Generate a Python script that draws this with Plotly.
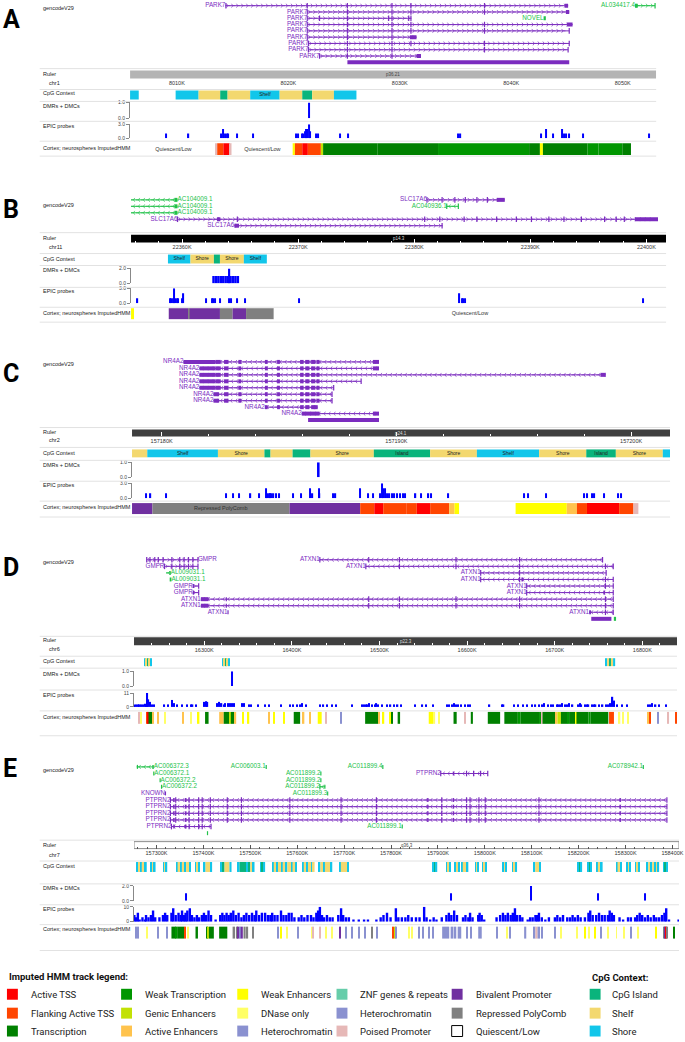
import numpy as np
import plotly.graph_objects as go

W, H = 685, 1042
FONT = "Liberation Sans"

PURPLE = "#7b2cbf"
GREEN = "#22c24a"
BLUE = "#0000ff"

HMM_COLORS = {
    "TssA": "#ff0000", "TssAFlnk": "#ff4500", "Tx": "#008000", "TxWk": "#009600",
    "EnhG": "#c2e105", "EnhA": "#ffc34d", "EnhW": "#ffff00", "DNase": "#ffff66",
    "ZNF": "#66cdaa", "Het": "#8a91d0", "PromP": "#e6b8b7", "PromBiv": "#7030a0",
    "ReprPC": "#808080", "Quies": "#ffffff",
}
# colours as drawn in the tracks (cyan blocks are labelled "Shelf", yellow "Shore")
CPG_COLORS = {"Island": "#0ab47c", "Shore": "#f3d86f", "Shelf": "#12c6ea"}

# ---------------- panel A : PARK7, chr1 (kb) ----------------
A_RANGE = (8005.8, 8053.0)
A_GENES = [
    ("PARK7", 0, 8014.35, 8045.1, "+", "left", "p", [8014.4, 8021.7, 8025.3, 8029.3, 8031.0, 8037.6, (8044.8, 8045.1)]),
    ("AL034417.4", 0, 8051.1, 8052.9, "+", "left", "g", [(8051.1, 8051.35), 8052.9]),
    ("PARK7", 1, 8021.7, 8045.2, "+", "left", "p", [8021.7, 8025.3, 8029.3, 8031.0, 8037.6, (8044.9, 8045.2)]),
    ("PARK7", 2, 8021.7, 8031.0, "+", "left", "p", [8021.7, 8022.8, 8025.3, 8029.0, 8029.3, 8030.8, 8031.0]),
    ("NOVEL", 2, 8042.9, 8043.1, "", "left", "g", [(8042.9, 8043.1)]),
    ("PARK7", 3, 8021.7, 8045.5, "+", "left", "p", [8021.7, 8025.3, 8029.3, 8031.0, 8037.6, (8045.0, 8045.5)]),
    ("PARK7", 4, 8021.7, 8045.2, "+", "left", "p", [8021.7, 8025.3, 8029.3, 8031.0, 8037.6, 8045.2]),
    ("PARK7", 5, 8021.7, 8031.5, "+", "left", "p", [8021.7, 8025.3, 8029.3, (8030.9, 8031.5)]),
    ("PARK7", 6, 8021.8, 8045.2, "+", "left", "p", [8021.8, 8025.3, 8029.3, 8031.0, 8037.6, 8045.2]),
    ("PARK7", 7, 8021.8, 8045.1, "+", "left", "p", [8021.8, 8025.3, 8029.3, 8037.6, 8045.1]),
    ("PARK7", 8, 8022.8, 8031.9, "+", "left", "p", [8022.8, 8025.3, 8029.3, (8031.5, 8031.9)]),
    ("", 9, 8025.3, 8045.2, "", "left", "p", [(8025.3, 8045.2)]),
]
A_CPG = [(8005.8, 8006.58, "Shelf"), (8009.89, 8011.95, "Shelf"), (8011.95, 8013.89, "Shore"),
         (8013.89, 8014.55, "Island"), (8014.55, 8016.58, "Shore"), (8016.58, 8019.22, "Shelf"),
         (8019.22, 8021.25, "Shore"), (8021.25, 8022.14, "Island"), (8022.14, 8024.09, "Shore"),
         (8024.09, 8026.11, "Shelf")]
A_CPG_TEXT = [(8017.9, "Shelf")]
A_DMR = [(8021.83, 8021.83, 1.0)]
A_EPIC = [(8009.0, 1), (8011.05, 1), (8013.97, 1), (8014.17, 2), (8014.36, 1), (8014.48, 1), (8014.63, 1),
          (8015.41, 1), (8016.81, 1), (8020.70, 1), (8020.90, 1), (8021.25, 1), (8021.36, 1), (8021.48, 1.5),
          (8021.60, 2), (8021.71, 2), (8021.83, 3), (8021.95, 1.5), (8022.53, 1), (8022.65, 1), (8024.67, 1),
          (8025.33, 1), (8035.26, 1), (8035.45, 1), (8042.69, 1), (8043.15, 2), (8043.74, 1), (8044.52, 2),
          (8044.71, 1), (8044.91, 1), (8045.18, 1), (8046.46, 1), (8052.38, 1)]
A_HMM = [(8005.8, 8013.45, "Quies"), (8013.45, 8013.62, "PromP"), (8013.62, 8014.17, "TssAFlnk"),
         (8014.17, 8014.75, "TssA"), (8014.75, 8014.92, "PromP"), (8014.92, 8020.39, "Quies"),
         (8020.39, 8020.59, "EnhW"), (8020.59, 8021.25, "TssAFlnk"), (8021.25, 8021.75, "TssA"),
         (8021.75, 8022.92, "TssAFlnk"), (8022.92, 8023.12, "EnhG"), (8023.12, 8027.98, "Tx"),
         (8027.98, 8033.43, "Tx"), (8033.43, 8041.6, "TxWk"), (8041.6, 8042.57, "Tx"),
         (8042.57, 8042.84, "EnhW"), (8042.84, 8046.85, "Tx"), (8046.85, 8047.82, "TxWk"),
         (8047.82, 8049.96, "TxWk"), (8049.96, 8050.74, "Tx")]
A_HMM_TEXT = [(8009.69, "Quiescent/Low"), (8017.67, "Quiescent/Low")]

# ---------------- panel B : SLC17A6, chr11 ----------------
B_RANGE = (22355.6, 22401.7)
B_GENES = [
    ("AC104009.1", 0, 22355.6, 22359.6, "-", "right", "g", [(22359.35, 22359.6)]),
    ("AC104009.1", 1, 22355.6, 22359.6, "-", "right", "g", [(22359.35, 22359.6)]),
    ("AC104009.1", 2, 22355.6, 22359.6, "-", "right", "g", [(22359.35, 22359.6)]),
    ("SLC17A6", 0, 22381.1, 22387.8, "+", "left", "p", [22381.1, 22382.4, 22383.5, 22384.4, 22385.4, 22386.3, (22387.1, 22387.8)]),
    ("AC040936.1", 1, 22382.8, 22383.8, "-", "left", "g", [22382.8, 22383.8]),
    ("SLC17A6", 3, 22359.6, 22401.0, "+", "left", "p", [22359.6, (22363.0, 22363.3), 22364.76, 22380.9, 22382.2, 22384.3,
                                                     22385.4, 22387.1, 22388.8, 22390.1, 22391.6, 22392.9, 22394.4,
                                                     22396.4, 22397.4, 22398.1, (22399.0, 22401.0)]),
    ("SLC17A6", 4, 22364.5, 22382.4, "+", "left", "p", [(22364.5, 22364.9), 22382.4]),
]
B_CPG = [(22358.78, 22360.72, "Shelf"), (22360.72, 22362.74, "Shore"), (22362.74, 22363.26, "Island"),
         (22363.26, 22365.32, "Shore"), (22365.32, 22367.30, "Shelf")]
B_CPG_TEXT = [(22359.75, "Shelf"), (22361.73, "Shore"), (22364.29, "Shore"), (22366.31, "Shelf")]
B_DMR = [(22362.60, 22362.81, 1.0), (22362.81, 22363.02, 1.0), (22363.02, 22363.23, 1.0), (22363.23, 22363.44, 1.0),
         (22363.44, 22363.65, 1.0), (22363.65, 22363.86, 1.0), (22363.86, 22364.07, 1.0), (22364.07, 22364.28, 1.0),
         (22364.28, 22364.49, 1.0), (22364.49, 22364.70, 1.0), (22364.70, 22364.91, 1.0), (22364.09, 22364.09, 2.0)]
B_EPIC = [(22356.16, 1), (22358.96, 1), (22359.08, 1), (22359.19, 1), (22359.30, 3), (22359.41, 1), (22359.53, 1),
          (22359.67, 1), (22359.97, 1), (22360.12, 2), (22362.07, 1), (22362.59, 1), (22362.70, 1), (22362.85, 1),
          (22363.26, 1), (22364.09, 1), (22364.20, 1), (22364.76, 1), (22365.39, 1), (22370.07, 1), (22383.90, 2),
          (22384.09, 1), (22384.20, 1), (22384.35, 1), (22399.71, 1)]
B_HMM = [(22355.6, 22355.86, "EnhW"), (22355.86, 22358.85, "Quies"), (22358.85, 22360.53, "PromBiv"),
         (22360.53, 22360.65, "ReprPC"), (22360.65, 22363.26, "PromBiv"), (22363.26, 22364.35, "ReprPC"),
         (22364.35, 22365.51, "PromBiv"), (22365.51, 22367.90, "ReprPC"), (22367.90, 22401.7, "Quies")]
B_HMM_TEXT = [(22384.8, "Quiescent/Low")]

# ---------------- panel C : NR4A2, chr2 ----------------
C_RANGE = (157178.74, 157201.66)
C_CORE = [(157182.29, 157182.52), (157182.66, 157182.85), (157183.27, 157183.39), (157184.40, 157184.52),
          (157184.92, 157185.04), (157185.90, 157186.05), (157186.12, 157186.30), (157186.37, 157186.55),
          (157186.60, 157186.73)]
C_TAIL = [(157189.0, 157189.26)]
C_GENES = [
    ("NR4A2", 0, 157180.93, 157189.26, "-", "left", "p", [(157180.93, 157182.29)] + C_CORE + C_TAIL),
    ("NR4A2", 1, 157181.61, 157189.26, "-", "left", "p", [(157181.61, 157182.29)] + C_CORE + C_TAIL),
    ("NR4A2", 2, 157181.61, 157198.92, "-", "left", "p", [(157181.61, 157182.29)] + C_CORE + [(157198.70, 157198.92)]),
    ("NR4A2", 3, 157181.61, 157188.50, "-", "left", "p", [(157181.61, 157182.29)] + C_CORE + [157188.50]),
    ("NR4A2", 4, 157181.61, 157187.33, "-", "left", "p", [(157181.61, 157182.29)] + C_CORE + [157187.33]),
    ("NR4A2", 5, 157182.21, 157187.26, "-", "left", "p", [(157182.21, 157182.45)] + C_CORE[1:] + [157187.26]),
    ("NR4A2", 6, 157182.21, 157187.26, "-", "left", "p", [(157182.21, 157182.45)] + C_CORE[1:] + [157187.26]),
    ("NR4A2", 7, 157184.40, 157186.65, "-", "left", "p", C_CORE[3:8] + [(157186.50, 157186.65)]),
    ("NR4A2", 8, 157185.97, 157189.26, "-", "left", "p", [(157185.97, 157186.73)] + C_TAIL),
    ("", 9, 157186.24, 157189.26, "", "left", "p", [(157186.24, 157189.26)]),
]
C_CPG = [(157178.74, 157179.39, "Shore"), (157179.39, 157182.40, "Shelf"), (157182.40, 157184.38, "Shore"),
         (157184.38, 157184.64, "Island"), (157184.64, 157185.58, "Shore"), (157185.58, 157186.34, "Island"),
         (157186.34, 157189.04, "Shore"), (157189.04, 157191.44, "Island"), (157191.44, 157193.43, "Shore"),
         (157193.43, 157196.08, "Shelf"), (157196.08, 157198.09, "Shore"), (157198.09, 157199.35, "Island"),
         (157199.35, 157201.35, "Shore"), (157201.35, 157201.66, "Shelf")]
C_CPG_TEXT = [(157180.9, "Shelf"), (157183.39, "Shore"), (157187.69, "Shore"), (157190.24, "Island"),
              (157192.44, "Shore"), (157194.76, "Shelf"), (157197.09, "Shore"), (157198.72, "Island"),
              (157200.35, "Shore")]
C_DMR = [(157186.65, 157186.73, 1.0)]
C_EPIC = [(157179.35, 1), (157179.53, 1), (157180.18, 1), (157182.74, 1), (157183.04, 1), (157183.30, 1),
          (157183.79, 1), (157184.14, 1), (157184.44, 2), (157184.50, 1), (157184.56, 1), (157184.62, 1),
          (157184.68, 1), (157184.77, 1), (157184.86, 1), (157185.00, 1), (157185.60, 1), (157185.94, 1),
          (157186.32, 2), (157186.43, 1), (157186.70, 2), (157186.73, 1), (157187.30, 1), (157187.41, 1),
          (157188.46, 2), (157188.79, 1), (157188.99, 1), (157189.32, 1), (157189.38, 3), (157189.44, 2),
          (157189.51, 2), (157189.59, 1), (157189.71, 1), (157189.81, 1), (157189.92, 1), (157190.04, 1),
          (157190.16, 1), (157190.28, 1), (157190.37, 1), (157190.82, 1), (157191.04, 1), (157191.37, 1),
          (157191.47, 1), (157192.22, 1), (157195.43, 1), (157195.61, 1), (157196.39, 1), (157197.99, 1),
          (157198.12, 1), (157198.35, 1), (157198.44, 1), (157198.85, 1), (157199.45, 1), (157199.56, 1)]
C_HMM = [(157178.74, 157179.61, "PromBiv"), (157179.61, 157185.45, "ReprPC"), (157185.45, 157188.46, "PromBiv"),
         (157188.46, 157189.06, "TssAFlnk"), (157189.06, 157189.44, "TssA"), (157189.44, 157190.42, "TssAFlnk"),
         (157190.42, 157190.87, "TssAFlnk"), (157190.87, 157191.44, "TssA"), (157191.44, 157192.25, "TssAFlnk"),
         (157192.25, 157192.48, "EnhA"), (157192.48, 157192.68, "EnhW"), (157192.68, 157195.08, "Quies"),
         (157195.08, 157197.26, "EnhW"), (157197.26, 157197.69, "EnhA"), (157197.69, 157198.12, "TssAFlnk"),
         (157198.12, 157199.49, "TssA"), (157199.49, 157200.10, "TssAFlnk"), (157200.10, 157200.31, "PromP")]
C_HMM_TEXT = [(157182.52, "Repressed PolyComb")]

# ---------------- panel D : GMPR / ATXN1, chr6 ----------------
D_RANGE = (16219.8, 16839.6)
D_ATXN1 = [16487.7, 16522.8, 16587.3, 16659.9, 16757.9]
D_GENES = [
    ("GMPR", 0, 16234.3, 16292.8, "+", "right", "p", [16234.3, 16238.0, 16243.5, 16247.5, 16253.0, 16263.0, 16272.0, 16277.0, 16282.0, 16287.0, 16292.8]),
    ("ATXN1", 0, 16431.9, 16754.6, "-", "left", "p", [16431.9, 16487.7, 16522.8, 16587.3, 16659.9, 16754.6]),
    ("GMPR", 1, 16254.5, 16292.8, "+", "left", "p", [16254.5, 16263.0, 16272.0, 16277.0, 16282.0, 16287.0, 16292.8]),
    ("ATXN1", 1, 16484.4, 16766.8, "-", "left", "p", [16484.4, 16522.8, 16587.3, 16659.9, 16757.9, 16766.8]),
    ("AL009031.1", 2, 16256.5, 16261.7, "-", "right", "g", [(16260.3, 16261.7)]),
    ("ATXN1", 2, 16615.5, 16758.7, "-", "left", "p", [16615.5, 16659.9, 16758.7]),
    ("AL009031.1", 3, 16260.5, 16262.5, "", "right", "g", [(16260.5, 16262.5)]),
    ("ATXN1", 3, 16615.5, 16766.8, "-", "left", "p", [16615.5, 16659.9, (16662.0, 16664.0), 16757.9, 16766.8]),
    ("GMPR", 4, 16286.8, 16293.6, "+", "left", "p", [(16286.8, 16288.3), 16293.6]),
    ("ATXN1", 4, 16668.0, 16766.8, "-", "left", "p", [16668.0, 16757.9, 16766.8]),
    ("GMPR", 5, 16286.8, 16293.6, "+", "left", "p", [(16286.8, 16288.3), 16293.6]),
    ("ATXN1", 5, 16668.0, 16766.8, "-", "left", "p", [16668.0, (16755.5, 16757.5), 16766.8]),
    ("ATXN1", 6, 16296.1, 16766.8, "-", "left", "p", [(16296.1, 16304.9), (16324.5, 16325.8)] + D_ATXN1 + [16766.8]),
    ("ATXN1", 7, 16296.1, 16766.8, "-", "left", "p", [(16296.1, 16304.9), (16324.5, 16325.8)] + D_ATXN1 + [16766.8]),
    ("ATXN1", 8, 16326.5, 16327.7, "", "left", "p", [(16326.5, 16327.7)]),
    ("ATXN1", 8, 16739.3, 16766.8, "-", "left", "p", [(16739.3, 16741.5), 16757.9, 16766.8]),
    ("", 9, 16741.7, 16764.7, "", "left", "p", [(16741.7, 16764.7)]),
    ("", 9, 16767.5, 16770.0, "", "left", "g", [(16767.5, 16770.0)]),
]
D_CPG = [(16231.7, 16233.4, "Shelf"), (16233.4, 16235.2, "Shore"), (16235.2, 16236.6, "Island"),
         (16236.6, 16238.5, "Shore"), (16238.5, 16240.2, "Shelf"),
         (16320.3, 16322.0, "Shelf"), (16322.0, 16324.0, "Shore"), (16324.0, 16325.5, "Island"),
         (16325.5, 16327.5, "Shore"), (16327.5, 16329.3, "Shelf"),
         (16757.6, 16759.8, "Shelf"), (16759.8, 16762.2, "Shore"), (16762.2, 16764.2, "Island"),
         (16764.2, 16766.6, "Shore"), (16766.6, 16769.0, "Shelf")]
D_CPG_TEXT = []
D_DMR = [(16331.8, 16331.8, 1.0)]
D_EPIC = [(16220.2, 2), (16222.2, 2), (16224.2, 2), (16226.2, 2), (16228.2, 2), (16230.3, 2), (16232.3, 2.5),
          (16233.5, 2), (16235.1, 11), (16236.3, 6), (16238.3, 4), (16240.3, 2), (16242.4, 2), (16254.5, 2),
          (16258.5, 2), (16263.3, 5.5), (16265.8, 3), (16268.6, 2), (16274.6, 2), (16280.7, 2), (16284.7, 2),
          (16286.7, 2), (16290.8, 2), (16300.1, 4), (16302.1, 4.5), (16303.7, 4), (16315.0, 3), (16317.0, 4),
          (16319.8, 3), (16322.2, 2), (16323.9, 3), (16327.1, 3), (16329.1, 3), (16331.9, 3), (16334.3, 3),
          (16343.2, 3), (16345.2, 3), (16351.3, 2), (16353.3, 2), (16361.4, 2), (16369.4, 2), (16373.5, 2),
          (16387.6, 2), (16397.7, 2), (16401.7, 2), (16405.7, 2), (16409.8, 2), (16411.8, 3), (16415.8, 2),
          (16432.0, 2), (16436.0, 2), (16440.0, 2), (16446.1, 2), (16450.1, 2), (16468.3, 2), (16480.4, 2),
          (16482.4, 2), (16484.4, 2), (16486.4, 2), (16488.4, 3), (16491.7, 2), (16494.5, 2), (16496.5, 3),
          (16498.5, 2), (16502.6, 2), (16508.6, 2), (16512.6, 2), (16516.7, 2), (16520.7, 2), (16524.7, 2),
          (16540.9, 2), (16549.0, 2), (16553.0, 2), (16561.1, 2), (16577.2, 2), (16579.2, 2), (16583.2, 2),
          (16585.3, 3), (16587.3, 2), (16589.3, 2), (16593.3, 2), (16597.4, 2), (16601.4, 2), (16603.4, 2),
          (16625.6, 2), (16639.7, 2), (16641.7, 2), (16653.8, 2), (16657.9, 2), (16663.9, 2), (16668.0, 2),
          (16674.0, 2), (16678.0, 2), (16682.1, 2), (16686.1, 2), (16688.1, 3), (16692.2, 2), (16696.2, 2),
          (16698.2, 2), (16702.3, 2), (16704.3, 2), (16706.3, 2), (16708.3, 3), (16712.3, 2), (16714.4, 2),
          (16716.4, 3), (16720.4, 2), (16726.5, 2), (16728.5, 3), (16730.5, 2), (16734.5, 2), (16736.6, 2),
          (16738.6, 2), (16742.6, 2), (16744.6, 2), (16746.7, 2), (16750.7, 2), (16754.7, 2), (16758.8, 2),
          (16760.8, 2), (16763.6, 3), (16766.0, 8), (16767.6, 5), (16770.8, 2), (16776.9, 2), (16782.9, 2),
          (16807.1, 2), (16809.1, 2), (16811.2, 3), (16815.2, 2), (16819.2, 2), (16827.3, 2)]
D_HMM = [(16225.4, 16226.6, "PromP"), (16227.4, 16228.5, "DNase"), (16233.5, 16235.1, "TssAFlnk"),
         (16235.1, 16236.3, "TssA"), (16236.3, 16240.8, "Tx"), (16240.8, 16242.4, "EnhA"),
         (16246.4, 16247.6, "EnhA"), (16254.5, 16255.7, "DNase"), (16274.6, 16275.8, "EnhA"),
         (16284.7, 16285.9, "DNase"), (16292.8, 16294.4, "EnhW"), (16300.9, 16304.9, "Tx"),
         (16317.0, 16322.2, "EnhA"), (16322.2, 16328.7, "Tx"), (16328.7, 16330.3, "EnhG"),
         (16330.3, 16333.9, "Tx"), (16333.9, 16336.4, "EnhA"), (16343.2, 16344.8, "EnhW"),
         (16349.7, 16351.3, "EnhW"), (16373.5, 16374.7, "EnhA"), (16379.5, 16380.7, "EnhW"),
         (16390.0, 16391.6, "EnhW"), (16402.1, 16409.4, "Tx"), (16412.6, 16414.2, "EnhA"),
         (16420.3, 16421.5, "EnhA"), (16429.5, 16434.0, "EnhW"), (16438.8, 16440.0, "PromP"),
         (16455.4, 16456.6, "Het"), (16483.6, 16498.5, "Tx"), (16498.5, 16499.7, "EnhA"),
         (16503.8, 16505.4, "EnhW"), (16511.8, 16513.5, "EnhW"), (16513.5, 16515.1, "Tx"),
         (16520.7, 16523.5, "Tx"), (16556.2, 16561.1, "EnhW"), (16561.1, 16563.5, "DNase"),
         (16567.1, 16568.3, "DNase"), (16584.5, 16588.1, "Tx"), (16597.4, 16598.6, "PromP"),
         (16604.2, 16606.6, "Tx"), (16623.6, 16637.7, "Tx"), (16642.5, 16657.9, "Tx"),
         (16657.9, 16661.1, "TxWk"), (16661.1, 16682.1, "Tx"), (16682.1, 16684.5, "TxWk"),
         (16684.5, 16686.1, "PromP"), (16686.1, 16700.3, "Tx"), (16700.3, 16703.1, "EnhA"),
         (16703.1, 16707.1, "EnhG"), (16707.1, 16714.4, "Tx"), (16714.4, 16716.4, "TxWk"),
         (16716.4, 16723.3, "Tx"), (16723.3, 16724.8, "EnhW"), (16724.8, 16738.6, "Tx"),
         (16738.6, 16741.0, "TxWk"), (16741.0, 16761.2, "Tx"), (16762.0, 16767.6, "TssAFlnk"),
         (16772.8, 16774.8, "DNase"), (16777.3, 16778.9, "DNase"), (16782.9, 16784.5, "DNase"),
         (16806.3, 16807.9, "EnhA"), (16807.9, 16809.5, "TssAFlnk"), (16817.2, 16818.4, "Het"),
         (16829.3, 16830.5, "PromP"), (16838.4, 16839.6, "TssAFlnk")]
D_HMM_TEXT = []

# ---------------- panel E : PTPRN2, chr7 ----------------
E_RANGE = (157252.0, 158414.0)
E_PTPRN2 = [157329.6, (157335.6, 157338.5), 157340.9, (157360.5, 157364.0), 157369.5, 157389.8, 157397.4, 157414.7,
            157450.9, 157481.0, 157584.2, 157693.5, 157768.8, (157877.0, 157880.0), 157908.2, (157931.6, 157934.6),
            157961.0, 157968.5, 157987.4, 158000.9, 158115.4, (158287.0, 158290.0), 158388.2]
E_GENES = [
    ("AC006372.3", 0, 157258.0, 157294.1, "-", "right", "g", [(157258.0, 157260.5), (157291.0, 157294.1)]),
    ("AC006003.1", 0, 157533.0, 157534.8, "", "left", "g", [(157533.0, 157534.8)]),
    ("AC011899.4", 0, 157781.6, 157783.4, "", "left", "g", [(157781.6, 157783.4)]),
    ("AC078942.1", 0, 158337.0, 158338.8, "", "left", "g", [(158337.0, 158338.8)]),
    ("AC006372.1", 1, 157293.3, 157295.1, "", "right", "g", [(157293.3, 157295.1)]),
    ("AC011899.2", 1, 157649.5, 157651.3, "", "left", "g", [(157649.5, 157651.3)]),
    ("PTPRN2", 1, 157906.0, 158006.2, "-", "left", "p", [157906.0, (157931.6, 157934.6), 157961.0, 157976.0, 157991.0, 158006.2]),
    ("AC006372.2", 2, 157306.8, 157308.6, "", "right", "g", [(157306.8, 157308.6)]),
    ("AC011899.2", 2, 157649.5, 157651.3, "", "left", "g", [(157649.5, 157651.3)]),
    ("AC006372.2", 3, 157309.8, 157311.6, "", "right", "g", [(157309.8, 157311.6)]),
    ("AC011899.2", 3, 157648.3, 157659.6, "-", "left", "g", [157648.3, (157658.2, 157659.6)]),
    ("KNOWN", 4, 157318.3, 157319.8, "", "left", "p", [(157318.3, 157319.8)]),
    ("AC011899.3", 4, 157664.0, 157665.8, "", "left", "g", [(157664.0, 157665.8)]),
    ("PTPRN2", 5, 157329.6, 158388.2, "-", "left", "p", E_PTPRN2),
    ("PTPRN2", 6, 157329.6, 158388.2, "-", "left", "p", E_PTPRN2),
    ("PTPRN2", 7, 157329.6, 158388.2, "-", "left", "p", E_PTPRN2),
    ("PTPRN2", 8, 157329.6, 158388.2, "-", "left", "p", E_PTPRN2),
    ("PTPRN2", 9, 157331.8, 157416.2, "-", "left", "p", [157331.8, (157335.6, 157338.5), (157360.5, 157364.0), 157369.5, 157389.8, 157397.4, 157416.2]),
    ("AC011899.1", 9, 157823.0, 157824.8, "", "left", "g", [(157823.0, 157824.8)]),
    ("", 10, 157407.8, 157409.6, "", "left", "g", [(157407.8, 157409.6)]),
]
E_CPG = [
    (157256.5, 157260.5, "Shelf"), (157260.5, 157265.0, "Shore"), (157265.0, 157268.5, "Shelf"), (157268.5, 157275.0, "Shore"), (157275.0, 157279.1, "Shelf"),
    (157288.1, 157291.5, "Shelf"), (157291.5, 157294.5, "Shore"), (157294.5, 157297.9, "Shelf"),
    (157314.5, 157317.5, "Shelf"), (157317.5, 157320.0, "Shore"), (157320.0, 157322.8, "Shelf"),
    (157341.6, 157345.0, "Shelf"), (157345.0, 157351.0, "Shore"), (157351.0, 157354.0, "Shelf"), (157354.0, 157360.0, "Shore"),
    (157360.0, 157363.0, "Shelf"), (157363.0, 157369.5, "Shore"), (157369.5, 157373.3, "Shelf"),
    (157383.1, 157386.0, "Shelf"), (157386.0, 157389.5, "Shore"), (157389.5, 157392.1, "Shelf"),
    (157401.1, 157404.5, "Shelf"), (157404.5, 157415.0, "Shore"), (157415.0, 157418.5, "Shelf"),
    (157437.3, 157441.0, "Shelf"), (157441.0, 157445.0, "Island"), (157445.0, 157455.5, "Shore"), (157455.5, 157459.9, "Shelf"),
    (157473.5, 157477.0, "Shelf"), (157477.0, 157492.0, "Island"), (157492.0, 157496.0, "Shelf"), (157496.0, 157500.0, "Island"),
    (157500.0, 157505.0, "Shore"), (157505.0, 157508.9, "Shelf"),
    (157521.7, 157524.5, "Shelf"), (157524.5, 157528.5, "Island"), (157528.5, 157531.5, "Shelf"),
    (157546.6, 157550.0, "Shelf"), (157550.0, 157556.0, "Shore"), (157556.0, 157559.0, "Shelf"), (157559.0, 157566.0, "Shore"),
    (157566.0, 157569.0, "Shelf"), (157569.0, 157576.0, "Shore"), (157576.0, 157579.0, "Shelf"), (157579.0, 157587.0, "Shore"),
    (157587.0, 157590.0, "Shelf"), (157590.0, 157596.0, "Shore"), (157596.0, 157599.3, "Shelf"),
    (157610.6, 157614.0, "Shelf"), (157614.0, 157620.0, "Shore"), (157620.0, 157623.0, "Shelf"), (157623.0, 157630.0, "Shore"),
    (157630.0, 157633.0, "Shelf"), (157633.0, 157637.0, "Shore"),
    (157646.0, 157649.5, "Shelf"), (157649.5, 157656.0, "Shore"), (157656.0, 157659.0, "Shelf"), (157659.0, 157671.0, "Shore"), (157671.0, 157674.7, "Shelf"),
    (157689.7, 157693.0, "Shelf"), (157693.0, 157706.5, "Shore"), (157706.5, 157710.1, "Shelf"),
    (157889.4, 157892.5, "Shelf"), (157892.5, 157895.5, "Island"), (157895.5, 157898.5, "Shelf"),
    (157918.0, 157921.0, "Shelf"), (157921.0, 157924.0, "Shore"), (157924.0, 157927.1, "Shelf"),
    (157936.1, 157939.0, "Shelf"), (157939.0, 157943.0, "Shore"), (157943.0, 157945.9, "Shelf"),
    (157949.7, 157953.0, "Shelf"), (157953.0, 157961.5, "Shore"), (157961.5, 157964.8, "Shelf"),
    (157979.8, 157982.5, "Shelf"), (157982.5, 157985.0, "Shore"), (157985.0, 157987.4, "Shelf"),
    (157994.9, 157998.0, "Shelf"), (157998.0, 158001.0, "Shore"), (158001.0, 158003.9, "Shelf"),
    (158038.6, 158041.3, "Shelf"), (158041.3, 158043.5, "Shore"), (158043.5, 158046.1, "Shelf"),
    (158058.9, 158062.0, "Shelf"), (158062.0, 158065.5, "Shore"), (158065.5, 158068.7, "Shelf"),
    (158104.1, 158107.5, "Shelf"), (158107.5, 158116.0, "Shore"), (158116.0, 158119.2, "Shelf"),
    (158198.3, 158201.3, "Shelf"), (158201.3, 158204.4, "Island"), (158204.4, 158207.4, "Shelf"),
    (158219.4, 158222.4, "Shelf"), (158222.4, 158225.5, "Island"), (158225.5, 158228.5, "Shelf"),
    (158237.5, 158241.0, "Shelf"), (158241.0, 158247.5, "Shore"), (158247.5, 158251.1, "Shelf"),
    (158279.7, 158283.0, "Shelf"), (158283.0, 158289.0, "Shore"), (158289.0, 158292.5, "Shelf"),
    (158302.3, 158305.3, "Shelf"), (158305.3, 158308.4, "Shore"), (158308.4, 158311.4, "Shelf"),
    (158320.4, 158323.5, "Shelf"), (158323.5, 158327.0, "Shore"), (158327.0, 158330.2, "Shelf"),
    (158345.3, 158348.5, "Shelf"), (158348.5, 158354.0, "Shore"), (158354.0, 158357.0, "Shelf"), (158357.0, 158362.5, "Shore"),
    (158362.5, 158365.5, "Shelf"), (158365.5, 158368.5, "Shore"), (158368.5, 158371.6, "Shelf"),
    (158380.7, 158383.8, "Shelf"), (158383.8, 158387.4, "Island"), (158387.4, 158390.5, "Shelf"),
]
E_CPG_TEXT = []
E_DMR = [(157362.0, 157362.0, 1.0), (157928.6, 157928.6, 1.0), (158098.1, 158098.1, 2.0),
         (158241.3, 158241.3, 1.0), (158341.5, 158341.5, 1.0)]
E_EPIC = [(157252.7, 4.5), (157256.5, 3), (157260.2, 6), (157264.0, 1.5), (157270.0, 3), (157275.3, 1.5), (157277.6, 4.5),
          (157282.8, 3), (157288.1, 4.5), (157292.6, 7.5), (157297.2, 3), (157306.2, 3), (157313.7, 4.5), (157318.3, 6),
          (157322.8, 4.5), (157331.8, 6), (157335.6, 9), (157340.9, 4.5), (157346.9, 6), (157351.4, 4.5), (157354.4, 7.5),
          (157358.9, 4.5), (157362.0, 6), (157365.7, 7.5), (157371.0, 9), (157375.5, 4.5), (157380.8, 3), (157386.1, 4.5),
          (157390.6, 3), (157396.6, 4.5), (157401.1, 6), (157405.7, 4.5), (157410.9, 7.5), (157416.2, 4.5), (157426.0, 1.5),
          (157435.8, 4.5), (157440.3, 6), (157444.8, 4.5), (157449.4, 6), (157453.9, 4.5), (157458.4, 6), (157463.7, 7.5),
          (157469.0, 4.5), (157475.0, 6), (157481.0, 3), (157486.3, 4.5), (157491.6, 6), (157497.6, 4.5), (157503.6, 6),
          (157508.9, 4.5), (157512.7, 7.5), (157518.7, 4.5), (157524.7, 6), (157531.5, 6), (157537.5, 4.5), (157542.8, 4.5),
          (157546.6, 6), (157551.8, 4.5), (157557.9, 4.5), (157565.4, 7.5), (157570.7, 4.5), (157576.7, 4.5), (157582.0, 6),
          (157588.0, 6), (157594.0, 3), (157603.1, 3), (157609.1, 4.5), (157615.1, 3), (157621.9, 4.5), (157629.4, 4.5),
          (157634.7, 3), (157640.7, 6), (157644.5, 7.5), (157648.3, 10), (157652.8, 4.5), (157657.3, 3), (157663.4, 4.5),
          (157669.4, 3), (157675.4, 3), (157687.5, 4.5), (157693.5, 9), (157698.0, 4.5), (157704.0, 3), (157710.1, 3),
          (157719.9, 1.5), (157731.2, 1.5), (157742.5, 1.5), (157750.8, 1.5), (157768.8, 1.5), (157777.9, 3), (157783.9, 4.5),
          (157791.4, 6), (157799.0, 3), (157810.3, 9), (157815.6, 3), (157823.1, 3), (157830.6, 3), (157836.7, 4.5),
          (157844.2, 3), (157853.2, 3), (157860.8, 3), (157870.6, 10), (157875.8, 3), (157883.4, 1.5), (157890.9, 3),
          (157896.9, 1.5), (157908.2, 3), (157918.0, 4.5), (157923.3, 6), (157928.6, 4.5), (157934.6, 7.5), (157940.6, 4.5),
          (157953.5, 3), (157958.7, 4.5), (157964.8, 3), (157968.5, 6), (157973.8, 3), (157985.9, 4.5), (157988.9, 6),
          (157993.4, 4.5), (157998.7, 1.5), (158025.0, 3), (158032.6, 4.5), (158038.6, 6), (158043.9, 4.5), (158049.1, 6),
          (158055.2, 4.5), (158059.7, 6), (158064.2, 9), (158068.7, 4.5), (158074.8, 4.5), (158080.0, 3), (158091.4, 1.5),
          (158096.6, 3), (158101.9, 3), (158107.9, 4.5), (158111.7, 4.5), (158115.4, 6), (158121.5, 3), (158129.0, 1.5),
          (158136.6, 3), (158149.4, 3), (158154.6, 4.5), (158160.7, 3), (158166.7, 4.5), (158175.7, 3), (158181.7, 3),
          (158187.1, 4.5), (158192.4, 3), (158198.3, 4.5), (158204.3, 3), (158213.4, 3), (158220.9, 6), (158224.7, 7.5),
          (158230.0, 4.5), (158237.5, 4.5), (158243.5, 6), (158249.6, 4.5), (158255.6, 4.5), (158262.4, 4.5), (158266.2, 7.5),
          (158270.7, 6), (158275.2, 4.5), (158287.2, 3), (158294.8, 1.5), (158305.3, 3), (158311.4, 3), (158320.4, 3),
          (158324.9, 4.5), (158330.2, 6), (158335.5, 4.5), (158341.5, 3), (158347.5, 4.5), (158353.6, 3), (158360.3, 4.5),
          (158365.6, 3), (158371.6, 3), (158377.7, 4.5), (158382.9, 6), (158386.7, 9), (158392.7, 1.5), (158413.1, 1.5)]
E_HMM = [(157255.0, 157258.0, "Het"), (157260.2, 157262.5, "Het"), (157279.1, 157281.2, "DNase"),
         (157301.7, 157303.8, "Het"), (157320.5, 157322.8, "Het"), (157331.8, 157341.0, "Tx"),
         (157341.0, 157344.0, "TxWk"), (157344.0, 157358.9, "Tx"), (157358.9, 157361.2, "TssAFlnk"),
         (157365.7, 157367.8, "DNase"), (157383.1, 157388.3, "Tx"), (157405.7, 157408.7, "Tx"),
         (157408.7, 157411.7, "EnhG"), (157411.7, 157422.2, "Tx"), (157433.5, 157450.9, "Tx"),
         (157462.2, 157467.5, "ReprPC"), (157469.7, 157472.7, "ReprPC"), (157473.5, 157476.5, "PromBiv"),
         (157476.5, 157479.5, "Het"), (157479.5, 157484.0, "PromBiv"), (157485.5, 157490.0, "ReprPC"),
         (157492.3, 157495.3, "ReprPC"), (157505.1, 157507.2, "ReprPC"), (157557.9, 157560.9, "Het"),
         (157563.9, 157566.2, "EnhW"), (157576.7, 157578.8, "DNase"), (157601.6, 157603.8, "Het"),
         (157629.4, 157631.5, "DNase"), (157633.2, 157635.5, "PromP"), (157648.3, 157650.4, "PromP"),
         (157660.4, 157662.5, "DNase"), (157672.4, 157674.5, "DNase"), (157690.5, 157692.7, "PromBiv"),
         (157702.5, 157704.6, "Het"), (157716.1, 157718.2, "Het"), (157729.7, 157731.8, "Het"),
         (157743.2, 157745.3, "Het"), (157758.3, 157760.5, "ReprPC"), (157768.8, 157770.9, "Het"),
         (157803.5, 157806.5, "TssAFlnk"), (157806.5, 157809.5, "EnhG"), (157809.5, 157811.8, "Het"),
         (157836.7, 157838.8, "DNase"), (157844.2, 157846.3, "DNase"), (157857.8, 157860.0, "Het"),
         (157866.8, 157868.9, "Het"), (157880.4, 157882.5, "Het"), (157889.4, 157891.5, "Het"),
         (157909.0, 157924.1, "Het"), (157927.1, 157933.1, "Het"), (157936.1, 157939.1, "Het"),
         (157942.1, 157949.7, "Het"), (157961.0, 157964.0, "Het"), (157968.5, 157970.6, "Het"),
         (157985.9, 157993.4, "Het"), (158025.0, 158027.3, "Het"), (158046.1, 158048.2, "DNase"),
         (158052.2, 158054.3, "Het"), (158083.8, 158088.3, "Het"), (158104.1, 158107.9, "Het"),
         (158107.9, 158112.4, "PromP"), (158112.4, 158117.7, "Het"), (158121.0, 158123.1, "Het"),
         (158149.4, 158151.5, "Het"), (158160.7, 158162.8, "DNase"), (158194.5, 158196.6, "DNase"),
         (158213.4, 158215.5, "EnhW"), (158220.9, 158223.0, "DNase"), (158234.5, 158236.6, "EnhW"),
         (158247.3, 158249.4, "Het"), (158262.4, 158264.5, "DNase"), (158279.7, 158281.8, "DNase"),
         (158296.3, 158298.4, "DNase"), (158309.9, 158312.0, "Het"), (158326.4, 158328.5, "DNase"),
         (158364.1, 158367.1, "EnhW"), (158380.7, 158382.9, "ReprPC"), (158382.9, 158384.6, "PromBiv"),
         (158384.6, 158386.7, "TssA"), (158386.7, 158389.7, "ReprPC"), (158401.8, 158404.1, "Tx")]
E_HMM_TEXT = []

LEGEND_HMM = [("Active TSS", "TssA"), ("Flanking Active TSS", "TssAFlnk"), ("Transcription", "Tx"),
              ("Weak Transcription", "TxWk"), ("Genic Enhancers", "EnhG"), ("Active Enhancers", "EnhA"),
              ("Weak Enhancers", "EnhW"), ("DNase only", "DNase"), ("Heterochromatin", "Het"),
              ("ZNF genes & repeats", "ZNF"), ("Heterochromatin", "Het"), ("Poised Promoter", "PromP"),
              ("Bivalent Promoter", "PromBiv"), ("Repressed PolyComb", "ReprPC"), ("Quiescent/Low", "Quies")]
LEGEND_CPG = [("CpG Island", "Island"), ("Shelf", "Shore"), ("Shore", "Shelf")]

# ---------------- layout of the panels (pixel positions) ----------------
PANELS = [
    dict(letter="A", letter_y=17, x0=131, x1=661, rng=A_RANGE, chrom="chr1", band="p36.21",
         rfill="#b4b4b4", rline=None, rtick=None, bandcol="#444", dtick=10, minor=None,
         gene_y0=2.7, gene_dy=6.33, gencode_y=5, seps=[66, 87, 99, 119, 139, 154],
         ruler_y=(68, 76), ruler_lab=71, chr_y=80, cpg_y=(88, 97), cpg_lab=91,
         dmr_y=(100, 116), dmr_lab=104, epic_y=(122, 136), epic_lab=124, hmm_y=(141, 153), hmm_lab=146,
         epic_w=1.2, genes=A_GENES, cpg=A_CPG, cpg_text=A_CPG_TEXT, dmr=A_DMR, dmr_max=1.0,
         dmr_tt=("0.0", "1.0"), epic=A_EPIC, epic_max=3.0, epic_tt=("0.0", "3.0"),
         hmm=A_HMM, hmm_text=A_HMM_TEXT),
    dict(letter="B", letter_y=208, x0=132, x1=671, rng=B_RANGE, chrom="chr11", band="p14.3",
         rfill="#000000", rline=None, rtick="#ffffff", bandcol="#dddddd", dtick=10, minor=2,
         gene_y0=198, gene_dy=6.5, gencode_y=203, seps=[231, 252, 264, 286, 306, 321],
         ruler_y=(233, 241), ruler_lab=236, chr_y=245, cpg_y=(253, 262), cpg_lab=257,
         dmr_y=(267, 282), dmr_lab=269, epic_y=(287, 302), epic_lab=290, hmm_y=(307, 318), hmm_lab=312,
         epic_w=1.2, genes=B_GENES, cpg=B_CPG, cpg_text=B_CPG_TEXT, dmr=B_DMR, dmr_max=2.0,
         dmr_tt=("0.0", "2.0"), epic=B_EPIC, epic_max=3.0, epic_tt=("0.0", "3.0"),
         hmm=B_HMM, hmm_text=B_HMM_TEXT),
    dict(letter="C", letter_y=373, x0=133, x1=675, rng=C_RANGE, chrom="chr2", band="p24.1",
         rfill="#3f3f3f", rline=None, rtick="#ffffff", bandcol="#dddddd", dtick=10, minor=2,
         gene_y0=361, gene_dy=6.5, gencode_y=363, seps=[427, 447, 460, 481, 501, 517],
         ruler_y=(429, 436), ruler_lab=431, chr_y=440, cpg_y=(449, 457), cpg_lab=453,
         dmr_y=(462, 477), dmr_lab=465, epic_y=(483, 498), epic_lab=485, hmm_y=(503, 514), hmm_lab=507,
         epic_w=1.2, genes=C_GENES, cpg=C_CPG, cpg_text=C_CPG_TEXT, dmr=C_DMR, dmr_max=1.0,
         dmr_tt=("0.0", "1.0"), epic=C_EPIC, epic_max=3.0, epic_tt=("0.0", "3.0"),
         hmm=C_HMM, hmm_text=C_HMM_TEXT),
    dict(letter="D", letter_y=568, x0=135, x1=682, rng=D_RANGE, chrom="chr6", band="p22.3",
         rfill="#3f3f3f", rline=None, rtick="#ffffff", bandcol="#dddddd", dtick=100, minor=20,
         gene_y0=560, gene_dy=6.6, gencode_y=562, seps=[637, 657, 669, 691, 712, 737],
         ruler_y=(638, 646), ruler_lab=641, chr_y=650, cpg_y=(659, 667), cpg_lab=662,
         dmr_y=(672, 687), dmr_lab=675, epic_y=(694, 708), epic_lab=696, hmm_y=(713, 725), hmm_lab=718,
         epic_w=1.3, genes=D_GENES, cpg=D_CPG, cpg_text=D_CPG_TEXT, dmr=D_DMR, dmr_max=1.0,
         dmr_tt=("0.0", "1.0"), epic=D_EPIC, epic_max=11, epic_tt=("0", "11"),
         hmm=D_HMM, hmm_text=D_HMM_TEXT),
    dict(letter="E", letter_y=770, x0=135, x1=684, rng=E_RANGE, chrom="chr7", band="q36.3",
         rfill="#ffffff", rline="#8c8c8c", rtick="#555555", bandcol="#444", dtick=100, minor=20,
         gene_y0=768.3, gene_dy=6.67, gencode_y=771, seps=[842, 863, 886, 907, 927, 953],
         ruler_y=(843.5, 850.5), ruler_lab=847, chr_y=857, cpg_y=(864, 874), cpg_lab=868,
         dmr_y=(888, 903), dmr_lab=890, epic_y=(909, 924), epic_lab=911, hmm_y=(929, 941), hmm_lab=931,
         epic_w=2.4, genes=E_GENES, cpg=E_CPG, cpg_text=E_CPG_TEXT, dmr=E_DMR, dmr_max=2.0,
         dmr_tt=("0.0", "2.0"), epic=E_EPIC, epic_max=10, epic_tt=("0", "10"),
         hmm=E_HMM, hmm_text=E_HMM_TEXT),
]


def pf(y):
    return 1 - y / H


fig = go.Figure()
layout = dict(width=W, height=H, margin=dict(l=0, r=0, t=0, b=0), paper_bgcolor="white",
              plot_bgcolor="rgba(0,0,0,0)", showlegend=False, barmode="overlay",
              yaxis=dict(domain=[0, 1], range=[H, 0], visible=False, anchor="x", fixedrange=True))
shapes, annots = [], []


def label(x, y, text, size=5.5, color="#222", anchor="left", font=FONT):
    annots.append(dict(xref="paper", yref="paper", x=x / W, y=pf(y), text=text, showarrow=False,
                       xanchor=anchor, yanchor="middle", font=dict(size=size, color=color, family=font)))


for i, p in enumerate(PANELS):
    xa = "x" if i == 0 else "x%d" % (i + 1)
    xkey = "xaxis" if i == 0 else "xaxis%d" % (i + 1)
    yd, ye = 2 + 2 * i, 3 + 2 * i
    kpp = (p["rng"][1] - p["rng"][0]) / (p["x1"] - p["x0"])

    xax = dict(domain=[p["x0"] / W, p["x1"] / W], range=list(p["rng"]), anchor="free",
               position=pf(p["ruler_y"][1]), showgrid=False, zeroline=False, showline=False,
               tickmode="linear", tick0=0, dtick=p["dtick"], ticksuffix="K", tickformat="d",
               tickfont=dict(size=5.5, family=FONT, color="#333"), ticklabeloverflow="allow",
               fixedrange=True)
    if p["rtick"]:
        xax.update(ticks="inside", ticklen=4, tickcolor=p["rtick"], tickwidth=1,
                   minor=dict(ticks="inside", ticklen=2, tickcolor=p["rtick"], dtick=p["minor"], tickwidth=1))
    else:
        xax.update(ticks="")
    layout[xkey] = xax

    for k, (key, mx, tt) in ((yd, ("dmr_y", p["dmr_max"], p["dmr_tt"])), (ye, ("epic_y", p["epic_max"], p["epic_tt"]))):
        t, b = p[key]
        layout["yaxis%d" % k] = dict(domain=[pf(b), pf(t)], range=[0, mx], anchor=xa, showline=True,
                                     linecolor="#888", linewidth=1, ticks="outside", ticklen=3,
                                     tickcolor="#888", tickvals=[0, mx], ticktext=list(tt),
                                     tickfont=dict(size=5, family=FONT, color="#444"),
                                     showgrid=False, zeroline=False, fixedrange=True)

    # ruler bar
    shapes.append(dict(type="rect", xref=xa, yref="y", x0=p["rng"][0], x1=p["rng"][1],
                       y0=p["ruler_y"][0], y1=p["ruler_y"][1], fillcolor=p["rfill"], layer="below",
                       line=dict(color=p["rline"] or p["rfill"], width=1 if p["rline"] else 0)))
    annots.append(dict(xref=xa, yref="y", x=sum(p["rng"]) / 2, y=sum(p["ruler_y"]) / 2, text=p["band"],
                       showarrow=False, font=dict(size=4.5, family=FONT, color=p["bandcol"])))

    # separators
    for s in p["seps"]:
        shapes.append(dict(type="line", xref="paper", yref="paper", x0=40 / W, x1=p["x1"] / W,
                           y0=pf(s), y1=pf(s), line=dict(color="#e2e2e2", width=1)))

    # left labels
    annots.append(dict(xref="paper", yref="paper", x=1 / W, y=pf(p["letter_y"]), text="<b>%s</b>" % p["letter"],
                       showarrow=False, xanchor="left", yanchor="middle",
                       font=dict(size=25, family="Roboto", color="#000")))
    label(41, p["gencode_y"], "gencodeV29")
    label(41, p["ruler_lab"], "Ruler")
    label(47, p["chr_y"], p["chrom"])
    label(41, p["cpg_lab"], "CpG Context")
    label(41, p["dmr_lab"], "DMRs + DMCs")
    label(41, p["epic_lab"], "EPIC probes")
    label(41, p["hmm_lab"], "Cortex; neurospheres ImputedHMM")

    # genes
    step = 5 * kpp
    for ck, col in (("p", PURPLE), ("g", GREEN)):
        lx, ly, bx, by, tx, ty = [], [], [], [], [], []
        chev = {"+": ([], []), "-": ([], [])}
        nx, ny, nt, npos = [], [], [], []
        for name, row, s, e, strand, side, gk, exons in p["genes"]:
            if gk != ck:
                continue
            y = p["gene_y0"] + row * p["gene_dy"]
            if strand:
                lx += [s, e, None]
                ly += [y, y, None]
                for c in np.arange(s + step / 2, e - step / 3, step):
                    chev[strand][0].append(c)
                    chev[strand][1].append(y)
            for ex in exons:
                if isinstance(ex, tuple):
                    a, b2 = ex
                    if b2 - a < kpp * 1.2:
                        m = (a + b2) / 2
                        a, b2 = m - kpp * 0.6, m + kpp * 0.6
                    bx += [a, b2, None]
                    by += [y, y, None]
                else:
                    tx.append(ex)
                    ty.append(y)
            if name:
                nx.append(s if side == "left" else e)
                ny.append(y)
                nt.append(name)
                npos.append("middle left" if side == "left" else "middle right")
        fig.add_trace(go.Scatter(x=lx, y=ly, mode="lines", line=dict(color=col, width=1),
                                 xaxis=xa, yaxis="y", hoverinfo="skip"))
        for strand, sym in (("+", "y-right"), ("-", "y-left")):
            cx, cy = chev[strand]
            if cx:
                fig.add_trace(go.Scatter(x=cx, y=cy, mode="markers", xaxis=xa, yaxis="y", hoverinfo="skip",
                                         marker=dict(symbol=sym, size=3.2, color=col,
                                                     line=dict(color=col, width=0.7))))
        fig.add_trace(go.Scatter(x=bx, y=by, mode="lines", line=dict(color=col, width=4),
                                 xaxis=xa, yaxis="y", hoverinfo="skip"))
        fig.add_trace(go.Scatter(x=tx, y=ty, mode="markers", xaxis=xa, yaxis="y", hoverinfo="skip",
                                 marker=dict(symbol="line-ns", size=4, color=col,
                                             line=dict(color=col, width=1.2))))
        fig.add_trace(go.Scatter(x=nx, y=ny, mode="text", text=nt, textposition=npos, cliponaxis=False,
                                 textfont=dict(size=6.3, family=FONT, color=col),
                                 xaxis=xa, yaxis="y", hoverinfo="skip"))

    # CpG context
    t, b = p["cpg_y"]
    fig.add_trace(go.Bar(x=[s for s, e, k in p["cpg"]], width=[max(e - s, kpp) for s, e, k in p["cpg"]],
                         offset=0, base=t, y=[b - t] * len(p["cpg"]),
                         marker=dict(color=[CPG_COLORS[k] for s, e, k in p["cpg"]], line=dict(width=0)),
                         xaxis=xa, yaxis="y", hoverinfo="skip"))
    if p["cpg_text"]:
        fig.add_trace(go.Scatter(x=[c for c, _ in p["cpg_text"]], y=[(t + b) / 2] * len(p["cpg_text"]),
                                 text=[s for _, s in p["cpg_text"]], mode="text", cliponaxis=False,
                                 textfont=dict(size=5, family=FONT, color="#222"),
                                 xaxis=xa, yaxis="y", hoverinfo="skip"))

    # HMM states
    t, b = p["hmm_y"]
    fig.add_trace(go.Bar(x=[s for s, e, k in p["hmm"]], width=[max(e - s, kpp) for s, e, k in p["hmm"]],
                         offset=0, base=t, y=[b - t] * len(p["hmm"]),
                         marker=dict(color=[HMM_COLORS[k] for s, e, k in p["hmm"]], line=dict(width=0)),
                         xaxis=xa, yaxis="y", hoverinfo="skip"))
    if p["hmm_text"]:
        fig.add_trace(go.Scatter(x=[c for c, _ in p["hmm_text"]], y=[(t + b) / 2] * len(p["hmm_text"]),
                                 text=[s for _, s in p["hmm_text"]], mode="text", cliponaxis=False,
                                 textfont=dict(size=5.5, family=FONT, color="#333"),
                                 xaxis=xa, yaxis="y", hoverinfo="skip"))

    # DMRs + DMCs
    dw = [max(e - s, kpp * 1.2) for s, e, v in p["dmr"]]
    fig.add_trace(go.Bar(x=[(s + e) / 2 for s, e, v in p["dmr"]], y=[v for s, e, v in p["dmr"]],
                         width=dw, offset=[-w / 2 for w in dw],
                         marker=dict(color=BLUE, line=dict(color="white", width=[0.6 if w > 3 * kpp else 0 for w in dw])),
                         xaxis=xa, yaxis="y%d" % yd, hoverinfo="skip"))
    # EPIC probes
    ew = p["epic_w"] * kpp
    fig.add_trace(go.Bar(x=[c for c, v in p["epic"]], y=[v for c, v in p["epic"]], width=ew, offset=-ew / 2,
                         marker=dict(color=BLUE, line=dict(width=0)),
                         xaxis=xa, yaxis="y%d" % ye, hoverinfo="skip"))

# legend
label(7, 979, "<b>Imputed HMM track legend:</b>", size=9.5, color="#111", font="Roboto")
label(594, 980, "<b>CpG Context:</b>", size=9.5, color="#111", font="Roboto")
cols = [7, 122, 239, 339, 455]
rows = [997, 1016, 1034]
for n, (txt, key) in enumerate(LEGEND_HMM):
    x, y = cols[n // 3], rows[n % 3]
    shapes.append(dict(type="rect", xref="paper", yref="paper", x0=x / W, x1=(x + 11) / W,
                       y0=pf(y + 5.5), y1=pf(y - 5.5), fillcolor=HMM_COLORS[key],
                       line=dict(color="#000" if key == "Quies" else HMM_COLORS[key], width=1 if key == "Quies" else 0)))
    label(x + 22, y, txt, size=9.5, color="#222", font="Roboto")
for n, (txt, key) in enumerate(LEGEND_CPG):
    x, y = 594, rows[n]
    shapes.append(dict(type="rect", xref="paper", yref="paper", x0=x / W, x1=(x + 11) / W,
                       y0=pf(y + 5.5), y1=pf(y - 5.5), fillcolor=CPG_COLORS[key], line=dict(width=0)))
    label(x + 20, y, txt, size=9.5, color="#222", font="Roboto")

layout["shapes"] = shapes
layout["annotations"] = annots
fig.update_layout(**layout)
# the page's default 8px body margin would push the figure off its 685x1042 frame
fig.write_html("out.html", config={"displayModeBar": False},
               post_script="document.body.style.margin='0px';document.body.style.overflow='hidden';")
